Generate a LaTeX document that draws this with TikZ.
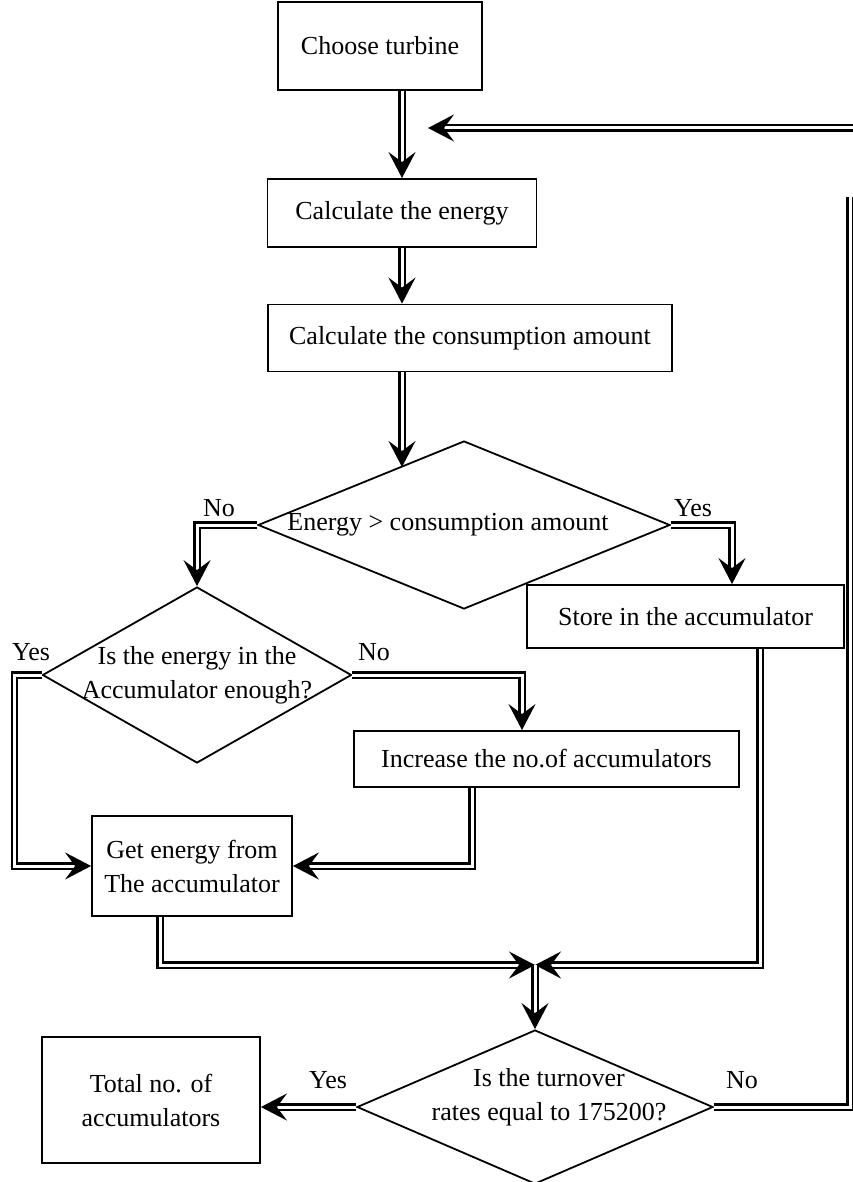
\documentclass[tikz,border=0pt]{standalone}
\usepackage{fontspec}
\setmainfont{Liberation Serif}
\usetikzlibrary{shapes.geometric, arrows.meta}

\begin{document}
\begin{tikzpicture}[x=1pt, y=-1pt, font=\fontsize{26}{34}\selectfont, box/.style={draw, rectangle, line width=1.8pt, inner sep=0pt, align=center}, dec/.style={draw, diamond, line width=1.8pt, inner sep=0pt}, l/.style={double, line width=2.1pt, double distance=3pt}, n/.style={l, -{Stealth[length=26pt, width=27pt, inset=10pt]}}]
            \useasboundingbox (0,0) rectangle (853,1182);
            % nodes
            \node[box, minimum width=204pt, minimum height=88pt] (choose) at (380,46) {Choose turbine};
            \node[box, minimum width=269pt, minimum height=68pt] (energy) at (402,213) {Calculate the energy};
            \node[box, minimum width=404pt, minimum height=67pt] (consum) at (470,338) {Calculate the consumption amount};

            \node[dec, minimum width=412pt, minimum height=168pt, label={[xshift=-16pt]center:Energy > consumption amount}] (dec1) at (464,525) {};
            \node[box, minimum width=317pt, minimum height=63pt] (store) at (685.5,616.5) {Store in the accumulator};

            \node[dec, minimum width=309pt, minimum height=176pt, label={[align=center]center:Is the energy in the\\Accumulator enough?}] (dec2) at (197,675) {};
            \node[box, minimum width=385pt, minimum height=56pt] (incr) at (546.5,759) {Increase the no.of accumulators};
            \node[box, minimum width=200pt, minimum height=100pt] (get) at (192,866) {Get energy from\\The accumulator};

            \node[dec, minimum width=356pt, minimum height=154pt, label={[align=center, xshift=14pt, yshift=10pt]center:Is the turnover\\rates equal to 175200?}] (dec3) at (535,1107) {};
            \node[box, minimum width=218pt, minimum height=126pt] (total) at (151,1100) {Total no. of\\accumulators};

            \node (no1) at (219,508) {No};
            \node (yes1) at (693,508) {Yes};
            \node (yes2) at (31,652) {Yes};
            \node (no2) at (374,652) {No};
            \node (yes3) at (328,1080) {Yes};
            \node (no3) at (742,1080) {No};

            \coordinate (d1in) at (402,467);
            \coordinate (merge) at (535,965);
            \coordinate (backtop) at (850,197);
            \coordinate (backin) at (853,128);
            \coordinate (backout) at (428,128);
            % edges
            \draw [n] (choose.south -| energy.north) -- (energy.north);
            \draw [n] (energy.south) -- (energy.south |- consum.north);
            \draw [n] (energy.south |- consum.south) -- (d1in);
            \draw [n] (dec1.west) -| (dec2.north);
            \draw [n] (dec1.east) -| ([xshift=46.5pt]store.north);
            \draw [n] (dec2.west) -- ++(-27,0) |- (get.west);
            \draw [n] (dec2.east) -| ([xshift=-24.5pt]incr.north);
            \draw [n] ([xshift=-74.5pt]incr.south) |- (get.east);
            \draw [n] ([xshift=-32pt]get.south) |- (merge);
            \draw [n] ([xshift=74.5pt]store.south) |- (merge);
            \draw [n] (merge) -- (dec3.north);
            \draw [n] (dec3.west) -- (dec3.west -| total.east);
            \draw [l] (dec3.east) -| (backtop);
            \draw [n] (backin) -- (backout);
        \end{tikzpicture}
\end{document}
